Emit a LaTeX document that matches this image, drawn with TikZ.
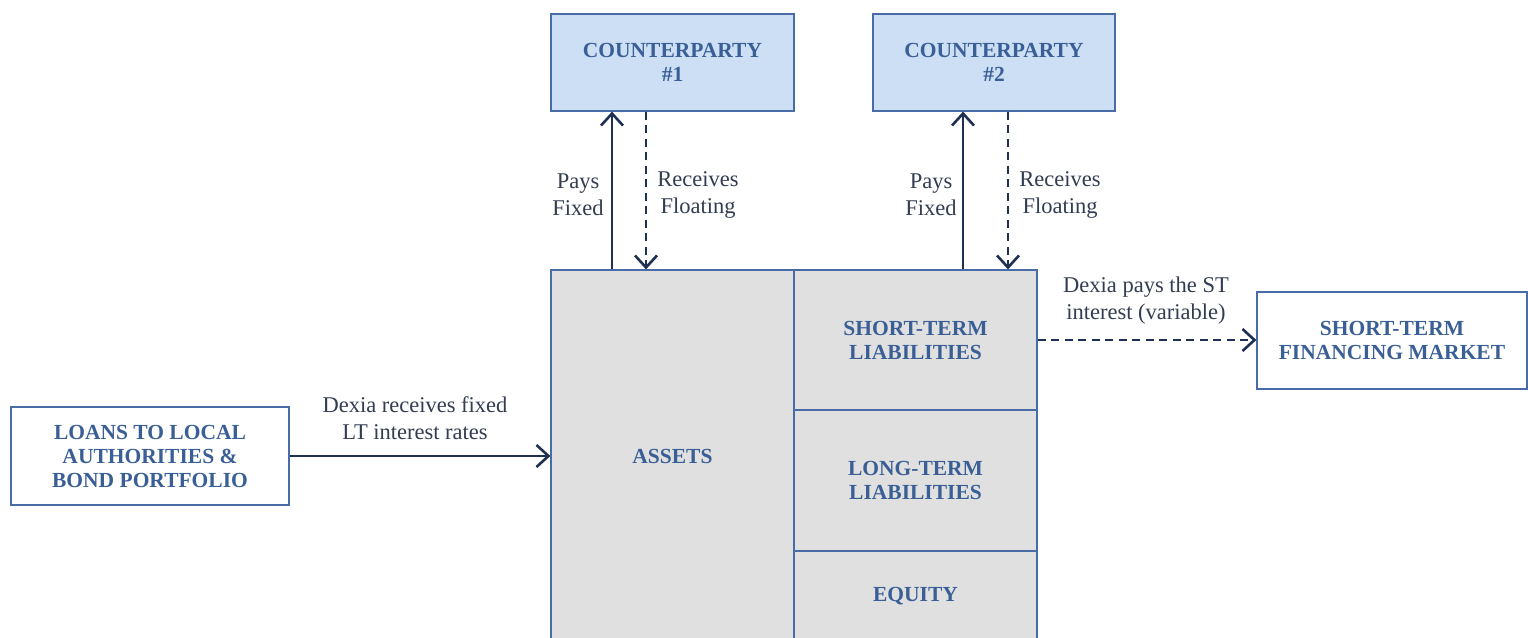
\documentclass[tikz,border=0pt]{standalone}
\usepackage{fontspec}
\setmainfont{Liberation Serif}
\usetikzlibrary{arrows.meta}
\definecolor{boxline}{HTML}{4A6CA6}
\definecolor{boxtext}{HTML}{3A5F96}
\definecolor{cpfill}{HTML}{CCDFF4}
\definecolor{bsfill}{HTML}{E0E0E0}
\definecolor{arrowcol}{HTML}{1F3152}
\definecolor{labcol}{HTML}{333D52}
\tikzset{
  box/.style={draw=boxline, line width=1.2pt, text=boxtext, font=\bfseries\fontsize{21.5}{24}\selectfont, align=center, inner sep=0pt},
  cpbox/.style={box, fill=cpfill},
  bsbox/.style={box, fill=bsfill},
  whitebox/.style={box, fill=white},
  flow/.style={draw=arrowcol, line width=2.6pt, -{Straight Barb[length=12pt,width=22pt,line width=2.6pt]}},
  dflow/.style={flow, dash pattern=on 8pt off 5.5pt},
  lab/.style={text=labcol, font=\fontsize{22.5}{27}\selectfont, align=center, inner sep=0pt}
}
\begin{document}
\begin{tikzpicture}[x=1pt,y=-1pt]
\clip (0,0) rectangle (1528,637);
\fill[white] (0,0) rectangle (1528,637);
% boxes
\node[cpbox, minimum width=243pt, minimum height=97pt] (cp1) at (672.5,62.5) {COUNTERPARTY\\\#1};
\node[cpbox, minimum width=242pt, minimum height=97pt] (cp2) at (994,62.5) {COUNTERPARTY\\\#2};
\node[bsbox, minimum width=243pt, minimum height=372pt] (assets) at (672.5,456) {ASSETS};
\node[bsbox, minimum width=243pt, minimum height=140pt] (stl) at (915.5,340) {SHORT-TERM\\LIABILITIES};
\node[bsbox, minimum width=243pt, minimum height=141pt] (ltl) at (915.5,480.5) {LONG-TERM\\LIABILITIES};
\node[bsbox, minimum width=243pt, minimum height=90pt] (eq) at (915.5,596) {EQUITY};
\node[whitebox, minimum width=278pt, minimum height=98pt] (loans) at (150,456) {LOANS TO LOCAL\\AUTHORITIES \&\\BOND PORTFOLIO};
\node[whitebox, minimum width=270pt, minimum height=97pt] (stfm) at (1392,340.5) {SHORT-TERM\\FINANCING MARKET};
% arrow positions
\coordinate (a1) at (612,0);
\coordinate (b1) at (646,0);
\coordinate (a2) at (963,0);
\coordinate (b2) at (1008,0);
\draw[flow] (assets.north -| a1) -- (cp1.south -| a1);
\draw[dflow] (cp1.south -| b1) -- (assets.north -| b1);
\draw[flow] (stl.north -| a2) -- (cp2.south -| a2);
\draw[dflow] (cp2.south -| b2) -- (stl.north -| b2);
\draw[flow] (loans.east) -- (assets.west |- loans.east);
\draw[dflow] (stl.east) -- (stfm.west |- stl.east);
% labels
\node[lab] (l1) at (578,195) {Pays\\Fixed};
\node[lab] (l2) at (698,195) {Receives\\Floating};
\node[lab] (l3) at (931,195) {Pays\\Fixed};
\node[lab] (l4) at (1060,195) {Receives\\Floating};
\node[lab] (l5) at (415,418) {Dexia receives fixed\\LT interest rates};
\node[lab] (l6) at (1146,301) {Dexia pays the ST\\interest (variable)};
\end{tikzpicture}
\end{document}
